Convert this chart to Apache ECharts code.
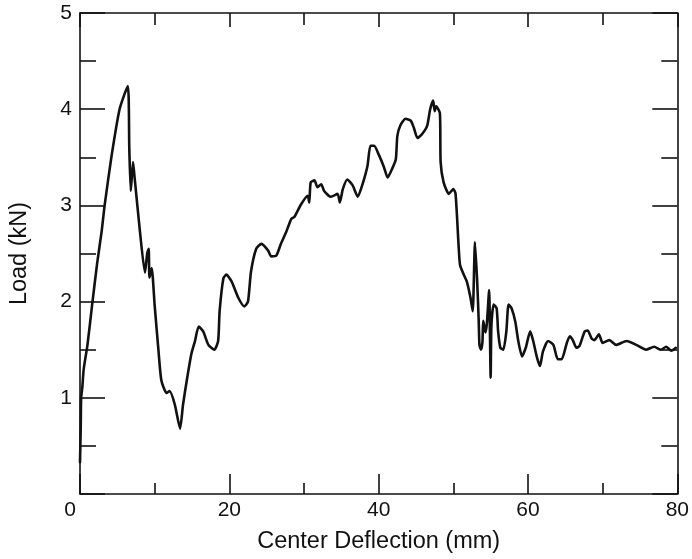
<!DOCTYPE html>
<html>
<head>
<meta charset="utf-8">
<script src="https://cdn.jsdelivr.net/npm/echarts@6/dist/echarts.min.js"></script>
<style>html,body{margin:0;padding:0;background:#fff;}#c{width:692px;height:559px;}</style>
</head>
<body>
<div id="c"></div>
<script>
var deflection = [0.0,0.1,0.15,0.3,0.5,1.0,1.6,2.3,2.9,3.3,4.2,5.3,6.4,6.6,6.8,7.1,7.3,8.0,8.7,9.0,9.2,9.3,9.6,10.0,10.5,10.9,11.6,12.0,12.7,13.4,13.8,14.3,14.9,15.4,15.9,16.5,17.2,18.0,18.5,18.7,19.2,19.6,20.3,21.2,22.0,22.5,22.9,23.6,24.3,25.2,25.6,26.3,26.9,27.6,28.3,28.7,29.6,30.5,30.7,30.9,31.4,31.8,32.3,32.7,33.6,34.5,34.8,35.2,35.8,36.5,37.2,37.8,38.5,38.9,39.4,40.0,40.7,41.2,41.8,42.3,42.5,42.9,43.6,44.3,44.7,45.2,45.8,46.5,46.9,47.3,47.5,47.7,48.2,48.3,48.7,49.4,50.0,50.3,50.7,50.9,51.4,51.8,52.3,52.6,52.9,53.2,53.4,53.5,53.7,53.9,54.0,54.3,54.5,54.8,54.9,55.0,55.1,55.4,55.8,56.0,56.3,56.7,57.1,57.4,57.8,58.3,58.7,59.2,59.7,60.3,60.7,61.2,61.6,62.0,62.7,63.4,64.0,64.5,65.2,65.6,66.0,66.5,66.9,67.6,68.0,68.5,68.9,69.5,70.0,70.9,71.8,73.2,74.5,75.8,76.9,77.8,78.5,79.2,79.8];
var load = [0.33,0.7,1.0,1.1,1.3,1.55,1.95,2.4,2.73,3.0,3.5,4.0,4.24,3.6,3.15,3.45,3.3,2.75,2.3,2.5,2.55,2.25,2.35,1.96,1.5,1.18,1.05,1.07,0.93,0.68,0.93,1.18,1.45,1.59,1.74,1.69,1.55,1.50,1.59,1.90,2.24,2.28,2.21,2.04,1.95,2.0,2.31,2.55,2.60,2.53,2.47,2.48,2.60,2.72,2.86,2.88,3.01,3.10,3.03,3.24,3.26,3.19,3.22,3.15,3.09,3.12,3.03,3.17,3.27,3.21,3.09,3.21,3.41,3.62,3.62,3.53,3.40,3.29,3.38,3.48,3.72,3.83,3.90,3.88,3.81,3.70,3.74,3.83,4.0,4.09,3.98,4.03,3.96,3.45,3.24,3.12,3.17,3.12,2.59,2.38,2.28,2.21,2.04,1.9,2.62,2.2,1.8,1.55,1.5,1.58,1.8,1.68,1.78,2.12,1.7,1.21,1.75,1.97,1.93,1.69,1.52,1.50,1.69,1.97,1.93,1.79,1.59,1.43,1.52,1.69,1.59,1.42,1.33,1.48,1.59,1.55,1.40,1.40,1.57,1.64,1.60,1.52,1.54,1.69,1.70,1.62,1.60,1.66,1.57,1.60,1.55,1.59,1.55,1.50,1.53,1.50,1.53,1.49,1.52];
var xTicks = [0, 20, 40, 60, 80];
var yTicks = [0, 1, 2, 3, 4, 5];

var pts = deflection.map(function (d, i) { return [d, load[i]]; });
var FONT = 'Liberation Sans';
var lineStyle = { color: '#111', width: 1.6 };
var chart = echarts.init(document.getElementById('c'), null, { renderer: 'canvas' });
chart.setOption({
  animation: false,
  backgroundColor: '#fff',
  grid: { left: 78, right: 14, top: 13, bottom: 62, containLabel: false },
  xAxis: [{
    type: 'value', min: xTicks[0], max: xTicks[xTicks.length - 1], interval: 20,
    name: 'Center Deflection (mm)', nameLocation: 'middle', nameGap: 36,
    nameTextStyle: { fontFamily: FONT, fontSize: 23.5, color: '#111' },
    axisLine: { show: true, onZero: false, lineStyle: lineStyle },
    axisTick: { show: true, inside: true, length: 20, lineStyle: lineStyle },
    minorTick: { show: true, splitNumber: 2, length: 11, lineStyle: lineStyle },
    splitLine: { show: false },
    axisLabel: {
      fontFamily: FONT, fontSize: 21, color: '#111', margin: 6,
      formatter: function (v) { return v === 0 ? '{z|0}' : String(v); },
      rich: { z: { fontFamily: FONT, fontSize: 21, color: '#111', padding: [0, 20, 0, 0] } }
    }
  }, {
    type: 'value', position: 'top', min: xTicks[0], max: xTicks[xTicks.length - 1], interval: 20,
    axisLine: { show: true, onZero: false, lineStyle: lineStyle },
    axisTick: { show: true, inside: true, length: 14, lineStyle: lineStyle },
    minorTick: { show: true, splitNumber: 2, length: 12, lineStyle: lineStyle },
    splitLine: { show: false },
    axisLabel: { show: false }
  }],
  yAxis: [{
    type: 'value', min: yTicks[0], max: yTicks[yTicks.length - 1], interval: 1,
    name: 'Load (kN)', nameLocation: 'middle', nameGap: 48,
    nameTextStyle: { fontFamily: FONT, fontSize: 23.5, color: '#111' },
    axisLine: { show: true, onZero: false, lineStyle: lineStyle },
    axisTick: { show: true, inside: true, length: 25, lineStyle: lineStyle },
    minorTick: { show: true, splitNumber: 2, length: 16, lineStyle: lineStyle },
    splitLine: { show: false },
    axisLabel: { fontFamily: FONT, fontSize: 21, color: '#111', margin: 8, showMinLabel: false }
  }, {
    type: 'value', position: 'right', min: yTicks[0], max: yTicks[yTicks.length - 1], interval: 1,
    axisLine: { show: true, onZero: false, lineStyle: lineStyle },
    axisTick: { show: true, inside: true, length: 25, lineStyle: lineStyle },
    minorTick: { show: true, splitNumber: 2, length: 16, lineStyle: lineStyle },
    splitLine: { show: false },
    axisLabel: { show: false }
  }],
  series: [{
    type: 'line', xAxisIndex: 0, yAxisIndex: 0, data: pts,
    symbol: 'none', smooth: 0.2,
    lineStyle: { color: '#111', width: 2.6, join: 'round', cap: 'round' }
  }]
});
</script>
</body>
</html>
